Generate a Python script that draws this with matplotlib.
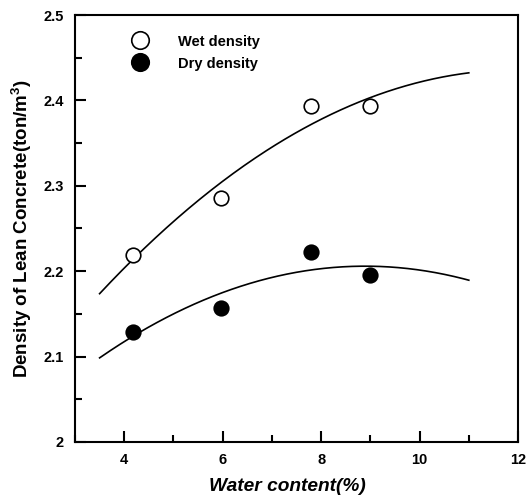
import numpy as np
import matplotlib
matplotlib.use('Agg')
import matplotlib.pyplot as plt
from matplotlib.ticker import MultipleLocator

plt.rcParams['font.family'] = ['Liberation Sans', 'DejaVu Sans']
plt.rcParams['mathtext.fontset'] = 'custom'
plt.rcParams['mathtext.rm'] = 'Liberation Sans:bold'
plt.rcParams['mathtext.bf'] = 'Liberation Sans:bold'

# data
water = [4.17, 5.96, 7.80, 8.99]
wet_density = [2.219, 2.286, 2.394, 2.393]
dry_density = [2.129, 2.157, 2.223, 2.196]
fit_range = [3.5, 11.0]

# define figure
fig = plt.figure(figsize=(5.27, 4.97), dpi=100)
ax = fig.add_axes([0.1423, 0.1107, 0.8407, 0.8591])

# 2nd order fit curves
xs = np.linspace(fit_range[0], fit_range[1], 200)
for dens in [wet_density, dry_density]:
    coef = np.polyfit(water, dens, 2)
    ax.plot(xs, np.polyval(coef, xs), color='black', lw=1.2)

ax.plot(water, wet_density, 'o', ms=10.5, mfc='white', mec='black', mew=1.2,
        ls='none', label='Wet density')
ax.plot(water, dry_density, 'o', ms=10.5, mfc='black', mec='black', mew=1.2,
        ls='none', label='Dry density')

ax.set_xlim(3, 12)
ax.set_ylim(2.0, 2.5)
ax.xaxis.set_major_locator(MultipleLocator(2))
ax.xaxis.set_minor_locator(MultipleLocator(1))
ax.yaxis.set_major_locator(MultipleLocator(0.1))
ax.yaxis.set_minor_locator(MultipleLocator(0.05))
ax.yaxis.set_major_formatter(plt.FuncFormatter(lambda v, p: f'{v:g}'))
ax.set_xticks([4, 6, 8, 10, 12])
ax.tick_params(which='both', direction='in', top=False, right=False, width=1.5)
ax.tick_params(which='major', length=8, labelsize=10.5, pad=8)
ax.tick_params(which='minor', length=5)
for lab in ax.get_xticklabels() + ax.get_yticklabels():
    lab.set_fontweight('bold')
for sp in ax.spines.values():
    sp.set_linewidth(1.5)

ax.set_xlabel('Water content(%)', fontsize=13.8, fontweight='bold',
              fontstyle='italic', labelpad=5)
ax.xaxis.set_label_coords(0.48, -0.085)
ax.set_ylabel(r'Density of Lean Concrete(ton/m$^3$)', fontsize=13.5,
              fontweight='bold', labelpad=7)

leg = ax.legend(loc='upper left', bbox_to_anchor=(0.085, 0.985), frameon=False,
                markerscale=1.2, handletextpad=1.6, labelspacing=0.55,
                prop={'weight': 'bold', 'size': 10.5})

fig.savefig('out.png', dpi=100)
